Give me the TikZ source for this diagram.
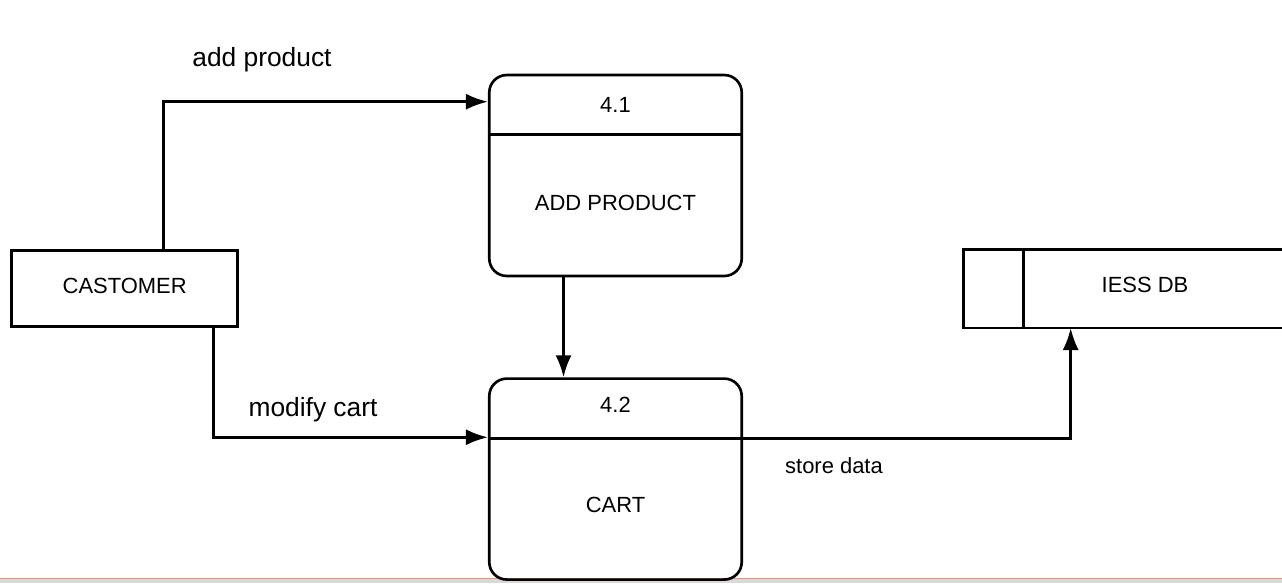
\documentclass[tikz,border=0pt]{standalone}
\usepackage{fontspec}
\setmainfont{Liberation Sans}
\usetikzlibrary{arrows.meta,positioning}
\tikzstyle{proc}=[draw,line width=1.5pt,rounded corners=0.35cm,minimum width=5.05cm,minimum height=4.02cm]
\tikzstyle{ent}=[draw,line width=1.5pt,minimum width=4.52cm,minimum height=1.52cm]
\tikzstyle{small}=[font=\fontsize{12.5}{15}\selectfont,inner sep=0pt]
\tikzstyle{lab}=[font=\fontsize{15}{18}\selectfont,inner sep=0pt]
\tikzstyle{flow}=[line width=1.5pt,-{Latex[length=4.4mm,width=3.2mm]}]

\begin{document}
\begin{tikzpicture}[x=0.02cm,y=-0.02cm,line width=1.5pt]
	\useasboundingbox (0,0) rectangle (1282,583);
	\fill[gray!30] (0,578) rectangle (1282,583);
	\draw[line width=0.6pt,color={rgb,255:red,200;green,160;blue,136}] (0,578.3) -- (1282,578.3);
	% entity and processes
	\node[ent] (cust) at (124.7,288.7) {};
	\node[small] (custname) at (124.7,286) {CASTOMER};
	\node[proc] (p1) at (615.5,175.5) {};
	\node[small] (p1num) at (615.5,105) {4.1};
	\node[small] (p1name) at (615.5,203) {ADD PRODUCT};
	\draw ([yshift=-1.22cm]p1.north west) -- ([yshift=-1.22cm]p1.north east);
	\node[proc] (p2) [below=2cm of p1] {};
	\node[small] (p2num) at (615.5,405) {4.2};
	\node[small] (p2name) at (615.5,505) {CART};
	\draw ([yshift=-1.22cm]p2.north west) -- ([yshift=-1.22cm]p2.north east);
	% data store, open at the right
	\node[minimum width=6.34cm,minimum height=1.52cm,inner sep=0pt] (db) at (1123.5,288.7) {};
	\node[small] (dbname) at (1145,285) {IESS DB};
	\draw (db.north east) -- (db.north west) -- (db.south west) -- (db.south east);
	\draw ([xshift=1.2cm]db.north west) -- ([xshift=1.2cm]db.south west);
	% flows
	\draw[flow] ([xshift=0.77cm]cust.north) |- ([yshift=-0.56cm]p1.north west);
	\node[lab] (addlab) at (262,60) {add product};
	\draw[flow] ([xshift=1.77cm]cust.south) |- ([yshift=-1.2cm]p2.north west);
	\node[lab] (modlab) at (313,410) {modify cart};
	\draw[flow] ([xshift=-1.04cm]p1.south) -- ([xshift=-1.04cm]p2.north);
	\draw[flow] ([yshift=-1.22cm]p2.north east) -| ([xshift=2.14cm]db.south west);
	\node[small] (storelab) at (834,466) {store data};
\end{tikzpicture}
\end{document}
